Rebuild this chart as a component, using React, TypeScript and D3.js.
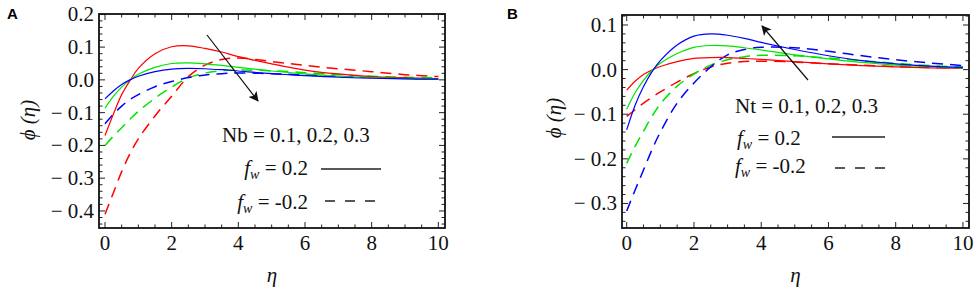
import React from "react";
import * as d3 from "d3";

// shared eta grid
const eta = [0, 0.25, 0.5, 0.75, 1, 1.5, 2, 2.5, 3, 3.5, 4, 5, 6, 7, 8, 9, 10];

// Panel A: Nb = 0.1 (red), 0.2 (green), 0.3 (blue)
const aSolidNb01 = [-0.17, -0.105, -0.045, -0.002, 0.035, 0.08, 0.101, 0.104, 0.096, 0.085, 0.071, 0.049, 0.03, 0.018, 0.01, 0.006, 0.003];
const aSolidNb02 = [-0.086, -0.05, -0.022, 0.0, 0.017, 0.038, 0.05, 0.052, 0.049, 0.044, 0.038, 0.027, 0.018, 0.011, 0.007, 0.004, 0.002];
const aSolidNb03 = [-0.058, -0.034, -0.014, 0.0, 0.011, 0.025, 0.033, 0.035, 0.034, 0.031, 0.027, 0.019, 0.013, 0.008, 0.005, 0.003, 0.002];
const aDashNb01 = [-0.41, -0.345, -0.28, -0.225, -0.18, -0.11, -0.05, 0.01, 0.045, 0.062, 0.067, 0.056, 0.044, 0.034, 0.025, 0.016, 0.01];
const aDashNb02 = [-0.2, -0.172, -0.146, -0.12, -0.096, -0.056, -0.022, 0.006, 0.021, 0.028, 0.03, 0.028, 0.022, 0.016, 0.011, 0.008, 0.006];
const aDashNb03 = [-0.134, -0.105, -0.08, -0.06, -0.045, -0.021, -0.005, 0.007, 0.015, 0.019, 0.021, 0.019, 0.015, 0.011, 0.007, 0.005, 0.003];

// Panel B: Nt = 0.1 (red), 0.2 (green), 0.3 (blue)
const bSolidNt01 = [-0.046, -0.026, -0.011, -0.001, 0.007, 0.018, 0.025, 0.027, 0.027, 0.025, 0.023, 0.018, 0.013, 0.009, 0.006, 0.004, 0.003];
const bSolidNt02 = [-0.089, -0.052, -0.024, -0.002, 0.014, 0.036, 0.05, 0.054, 0.053, 0.049, 0.044, 0.033, 0.024, 0.016, 0.01, 0.007, 0.004];
const bSolidNt03 = [-0.135, -0.08, -0.038, -0.005, 0.02, 0.055, 0.075, 0.08, 0.077, 0.07, 0.061, 0.045, 0.031, 0.02, 0.013, 0.008, 0.005];
const bDashNt01 = [-0.105, -0.09, -0.075, -0.062, -0.05, -0.028, -0.009, 0.006, 0.014, 0.018, 0.019, 0.017, 0.013, 0.01, 0.007, 0.005, 0.004];
const bDashNt02 = [-0.21, -0.172, -0.138, -0.105, -0.077, -0.037, -0.01, 0.01, 0.022, 0.029, 0.032, 0.031, 0.026, 0.02, 0.014, 0.009, 0.006];
const bDashNt03 = [-0.317, -0.27, -0.225, -0.18, -0.14, -0.075, -0.03, 0.006, 0.033, 0.045, 0.05, 0.049, 0.041, 0.031, 0.022, 0.015, 0.009];

const xTicks = [0, 2, 4, 6, 8, 10];
const aYTicks = [0.2, 0.1, 0.0, -0.1, -0.2, -0.3, -0.4];
const bYTicks = [0.1, 0.0, -0.1, -0.2, -0.3];

const RED = "#ff0000";
const GREEN = "#00e400";
const BLUE = "#0000ff";

type Series = { values: number[]; color: string; dashed: boolean };

const seriesA: Series[] = [
  { values: aDashNb01, color: RED, dashed: true },
  { values: aDashNb02, color: GREEN, dashed: true },
  { values: aDashNb03, color: BLUE, dashed: true },
  { values: aSolidNb01, color: RED, dashed: false },
  { values: aSolidNb02, color: GREEN, dashed: false },
  { values: aSolidNb03, color: BLUE, dashed: false },
];
const seriesB: Series[] = [
  { values: bDashNt01, color: RED, dashed: true },
  { values: bDashNt02, color: GREEN, dashed: true },
  { values: bDashNt03, color: BLUE, dashed: true },
  { values: bSolidNt01, color: RED, dashed: false },
  { values: bSolidNt02, color: GREEN, dashed: false },
  { values: bSolidNt03, color: BLUE, dashed: false },
];

const SERIF = "Liberation Serif, Times New Roman, Times, DejaVu Serif, serif";
const serifStyle = { fontFamily: SERIF } as React.CSSProperties;

function fmtY(v: number) {
  const s = Math.abs(v).toFixed(1);
  return v < -1e-9 ? "\u2212 " + s : s;
}

type PanelProps = {
  left: number; right: number; top: number; bottom: number;
  xDomain: [number, number]; yDomain: [number, number];
  yTicks: number[]; series: Series[];
  letter: string; letterX: number;
  yTitleX: number; yTitleY: number;
  idp: string;
};

function Panel(p: PanelProps) {
  const x = d3.scaleLinear().domain(p.xDomain).range([p.left, p.right]);
  const y = d3.scaleLinear().domain(p.yDomain).range([p.bottom, p.top]);
  const line = d3.line<number>()
    .x((_, i) => x(eta[i]))
    .y((d) => y(d))
    .curve(d3.curveCatmullRom.alpha(0.5));

  const xMinor = d3.range(0, 10.001, 0.5);
  const yMinor = d3.range(Math.ceil(p.yDomain[0] / 0.02) * 0.02, p.yDomain[1] + 1e-9, 0.02);
  const isMajorY = (v: number) => Math.abs(v * 10 - Math.round(v * 10)) < 1e-6;
  const isMajorX = (v: number) => Math.abs(v / 2 - Math.round(v / 2)) < 1e-6;

  const clipId = "clip" + p.idp;
  return (
    <g>
      <defs>
        <clipPath id={clipId}>
          <rect x={p.left} y={p.top} width={p.right - p.left} height={p.bottom - p.top} />
        </clipPath>
      </defs>
      <g clipPath={`url(#${clipId})`}>
        {p.series.map((s, i) => (
          <path key={i} d={line(s.values) || ""} fill="none" stroke={s.color}
            strokeWidth={s.dashed ? 1.5 : 1.2}
            strokeDasharray={s.dashed ? "11,7" : undefined} />
        ))}
      </g>
      {xMinor.map((v, i) => {
        const len = isMajorX(v) ? 6 : 3.5;
        return (
          <g key={"xt" + i} stroke="#222" strokeWidth={1}>
            <line x1={x(v)} x2={x(v)} y1={p.bottom} y2={p.bottom - len} />
            <line x1={x(v)} x2={x(v)} y1={p.top} y2={p.top + len} />
          </g>
        );
      })}
      {yMinor.map((v, i) => {
        const len = isMajorY(v) ? 6 : 3.5;
        return (
          <g key={"yt" + i} stroke="#222" strokeWidth={1}>
            <line x1={p.left} x2={p.left + len} y1={y(v)} y2={y(v)} />
            <line x1={p.right} x2={p.right - len} y1={y(v)} y2={y(v)} />
          </g>
        );
      })}
      <rect x={p.left} y={p.top} width={p.right - p.left} height={p.bottom - p.top}
        fill="none" stroke="#111" strokeWidth={1.8} />
      {xTicks.map((v) => (
        <text key={"xl" + v} x={x(v)} y={250} textAnchor="middle" style={serifStyle} fontSize={21} fill="#111">{v}</text>
      ))}
      {p.yTicks.map((v) => (
        <text key={"yl" + v} x={p.left - 5} y={y(v) + 7} textAnchor="end" style={serifStyle} fontSize={21} fill="#111">{fmtY(v)}</text>
      ))}
      <text x={(p.left + p.right) / 2} y={282} textAnchor="middle" style={serifStyle} fontStyle="italic" fontSize={21} fill="#111">η</text>
      <text transform={`translate(${p.yTitleX},${p.yTitleY}) rotate(-90)`} textAnchor="middle" dominantBaseline="central"
        style={serifStyle} fontStyle="italic" fontSize={21} fill="#111">ϕ (η)</text>
      <text x={p.letterX} y={19} style={{ fontFamily: "Liberation Sans, Arial, sans-serif" }} fontWeight="bold" fontSize={15} fill="#000">{p.letter}</text>
    </g>
  );
}

function FwLabel({ x, y, value, anchor }: { x: number; y: number; value: string; anchor: "start" | "end" }) {
  return (
    <text x={x} y={y} textAnchor={anchor} style={serifStyle} fontSize={21} fill="#111">
      <tspan fontStyle="italic">f</tspan>
      <tspan fontStyle="italic" fontSize={14} dy={4}>w</tspan>
      <tspan dy={-4}>{" = " + value}</tspan>
    </text>
  );
}

export default function App() {
  return (
    <svg width={976} height={294} style={{ position: "absolute", left: 0, top: 0, background: "#fff" }}>
      <defs>
        <marker id="arr" viewBox="0 0 10 10" refX="9" refY="5" markerWidth="10" markerHeight="10" markerUnits="userSpaceOnUse" orient="auto">
          <path d="M0,0 L10,5 L0,10 L2.5,5 Z" fill="#111" />
        </marker>
      </defs>
      <rect x={0} y={0} width={976} height={294} fill="#fff" />
      <Panel left={99} right={445} top={14} bottom={228}
        xDomain={[-0.18, 10.2]} yDomain={[-0.452, 0.201]} yTicks={aYTicks} series={seriesA}
        letter="A" letterX={7} yTitleX={28} yTitleY={120} idp="A" />
      <Panel left={622} right={969} top={15} bottom={228}
        xDomain={[-0.14, 10.18]} yDomain={[-0.355, 0.1224]} yTicks={bYTicks} series={seriesB}
        letter="B" letterX={507} yTitleX={554} yTitleY={118} idp="B" />

      <line x1={207} y1={35} x2={258} y2={101} stroke="#111" strokeWidth={1.2} markerEnd="url(#arr)" />
      <text x={222} y={142} style={serifStyle} fontSize={21} fill="#111">Nb = 0.1, 0.2, 0.3</text>
      <FwLabel x={308} y={175} value="0.2" anchor="end" />
      <line x1={321} y1={169} x2={381} y2={169} stroke="#222" strokeWidth={1.3} />
      <FwLabel x={308} y={209} value="-0.2" anchor="end" />
      <line x1={325} y1={201} x2={375} y2={201} stroke="#222" strokeWidth={1.3} strokeDasharray="10,10" />

      <line x1={808} y1={80} x2={762} y2={26} stroke="#111" strokeWidth={1.2} markerEnd="url(#arr)" />
      <text x={735} y={113} style={serifStyle} fontSize={21} fill="#111">Nt = 0.1, 0.2, 0.3</text>
      <FwLabel x={737} y={145} value="0.2" anchor="start" />
      <line x1={832} y1={137} x2={885} y2={137} stroke="#222" strokeWidth={1.3} />
      <FwLabel x={735} y={173} value="-0.2" anchor="start" />
      <line x1={835} y1={168} x2={885} y2={168} stroke="#222" strokeWidth={1.3} strokeDasharray="10,10" />
    </svg>
  );
}
